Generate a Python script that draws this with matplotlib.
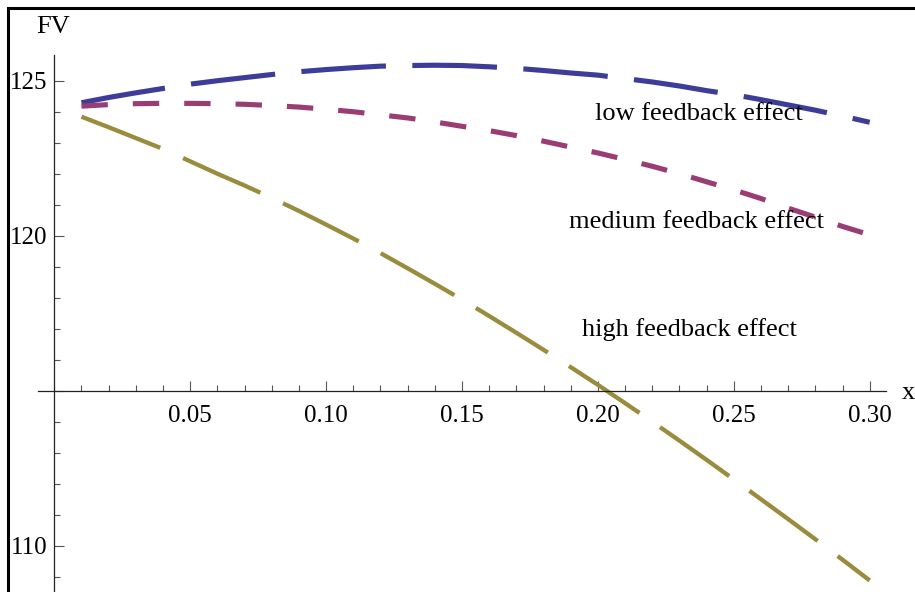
import matplotlib
matplotlib.use("Agg")
import matplotlib.pyplot as plt
from matplotlib.patches import Rectangle
from matplotlib.ticker import MultipleLocator, FixedLocator

# valori (x da 0.01 a 0.30)
x = [0.01, 0.02, 0.03, 0.04, 0.05, 0.06, 0.07, 0.08, 0.09, 0.10,
     0.11, 0.12, 0.13, 0.14, 0.15, 0.16, 0.17, 0.18, 0.19, 0.20,
     0.21, 0.22, 0.23, 0.24, 0.25, 0.26, 0.27, 0.28, 0.29, 0.30]

fv_low = [124.29, 124.46, 124.61, 124.75, 124.89, 125.00, 125.10, 125.20, 125.29, 125.36,
          125.42, 125.47, 125.49, 125.50, 125.49, 125.45, 125.40, 125.33, 125.25, 125.18,
          125.07, 124.96, 124.83, 124.68, 124.55, 124.39, 124.22, 124.05, 123.86, 123.66]

fv_medium = [124.18, 124.23, 124.26, 124.27, 124.27, 124.26, 124.24, 124.20, 124.15, 124.08,
             124.00, 123.90, 123.80, 123.67, 123.53, 123.39, 123.23, 123.05, 122.86, 122.67,
             122.46, 122.24, 122.00, 121.74, 121.48, 121.20, 120.89, 120.60, 120.30, 120.03]

fv_high = [123.84, 123.50, 123.15, 122.80, 122.40, 122.00, 121.62, 121.22, 120.80, 120.36,
           119.91, 119.44, 118.95, 118.45, 117.94, 117.41, 116.87, 116.32, 115.76, 115.19,
           114.60, 114.00, 113.39, 112.77, 112.14, 111.50, 110.86, 110.21, 109.55, 108.88]

labels = ["low feedback effect", "medium feedback effect", "high feedback effect"]
label_pos = [(0.2372, 123.93), (0.2361, 120.45), (0.2336, 116.96)]

x_ticks = [0.05, 0.10, 0.15, 0.20, 0.25, 0.30]
y_ticks = [110, 115, 120, 125]
y_labels = ["110", "", "120", "125"]  # 115 e' l'incrocio degli assi

# colori stile Mathematica
c_low = "#3d3d99"
c_med = "#993d74"
c_high = "#998c3d"

plt.rcParams["font.family"] = ["Liberation Serif", "DejaVu Serif"]
plt.rcParams["lines.scale_dashes"] = False

W, H = 915, 592
fig = plt.figure(figsize=(W / 100, H / 100), dpi=100)
ax = fig.add_axes([38 / W, 1 - 591 / H, (886 - 38) / W, (591 - 55) / H])

ax.plot(x, fv_low, color=c_low, lw=3.7, dashes=(61, 19))
ax.plot(x, fv_medium, color=c_med, lw=3.7, dashes=(19, 18))
ax.plot(x, fv_high, color=c_high, lw=3.1, dashes=(61, 18))

for txt, (tx, ty) in zip(labels, label_pos):
    ax.text(tx, ty, txt, fontsize=19, ha="center", va="center")

ax.set_xlim(-0.006, 0.306)
ax.set_ylim(108.54, 125.83)

# assi che si incrociano in (0, 115)
for s in ["top", "right"]:
    ax.spines[s].set_visible(False)
ax.spines["left"].set_position(("data", 0))
ax.spines["bottom"].set_position(("data", 115))
for s in ["left", "bottom"]:
    ax.spines[s].set_color("#222222")
    ax.spines[s].set_linewidth(0.9)

ax.xaxis.set_major_locator(FixedLocator(x_ticks))
ax.xaxis.set_minor_locator(MultipleLocator(0.01))
ax.yaxis.set_major_locator(FixedLocator(y_ticks))
ax.yaxis.set_minor_locator(MultipleLocator(1))
ax.set_xticklabels(["%.2f" % t for t in x_ticks])
ax.set_yticklabels(y_labels)

ax.tick_params(which="both", direction="in", color="#555555", width=0.8,
               labelsize=18, labelcolor="black")
ax.tick_params(which="major", length=7.2)
ax.tick_params(which="minor", length=4.3)
ax.tick_params(axis="x", which="major", pad=10)
ax.tick_params(axis="y", which="major", pad=5)

ax.patch.set_alpha(0)

# etichette degli assi
fig.text(53 / W, 1 - 27 / H, "FV", fontsize=19, ha="center", va="center")
fig.text(902 / W, 1 - 393 / H, "x", fontsize=19, ha="left", va="center")

# cornice nera (visibile solo a sinistra e in alto)
fig.patches.append(Rectangle((8 / W, -0.5), 2, 1.5 - 8 / H, transform=fig.transFigure,
                             fill=False, edgecolor="black", lw=2.2))

fig.savefig("out.png", dpi=100)
